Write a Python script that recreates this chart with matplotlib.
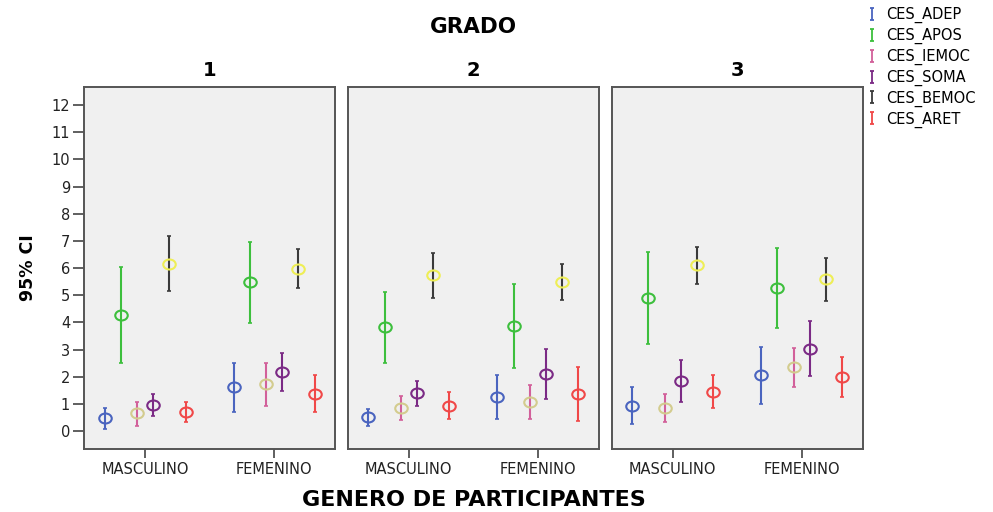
import numpy as np
import matplotlib
matplotlib.use("Agg")
import matplotlib.pyplot as plt
from matplotlib.path import Path
from matplotlib.transforms import Affine2D
from matplotlib.lines import Line2D

# series, genders, grades
series = ["CES_ADEP", "CES_APOS", "CES_IEMOC", "CES_SOMA", "CES_BEMOC", "CES_ARET"]
generos = ["MASCULINO", "FEMENINO"]
grados = ["1", "2", "3"]

# columns: G1 masc, G1 fem, G2 masc, G2 fem, G3 masc, G3 fem
media = [
    [0.48, 1.61, 0.50, 1.25, 0.94, 2.06],
    [4.26, 5.47, 3.84, 3.86, 4.89, 5.28],
    [0.65, 1.74, 0.86, 1.08, 0.86, 2.34],
    [0.96, 2.17, 1.40, 2.11, 1.86, 3.01],
    [6.15, 5.98, 5.74, 5.47, 6.10, 5.58],
    [0.70, 1.38, 0.94, 1.36, 1.45, 1.99],
]
lim_inf = [
    [0.09, 0.71, 0.18, 0.44, 0.27, 0.98],
    [2.49, 3.98, 2.51, 2.32, 3.19, 3.81],
    [0.20, 0.94, 0.42, 0.44, 0.34, 1.63],
    [0.55, 1.46, 0.93, 1.18, 1.08, 2.01],
    [5.16, 5.26, 4.90, 4.82, 5.42, 4.79],
    [0.33, 0.71, 0.44, 0.37, 0.86, 1.26],
]
lim_sup = [
    [0.86, 2.49, 0.82, 2.05, 1.61, 3.11],
    [6.02, 6.96, 5.12, 5.42, 6.59, 6.75],
    [1.08, 2.52, 1.29, 1.70, 1.38, 3.05],
    [1.36, 2.87, 1.85, 3.01, 2.62, 4.04],
    [7.17, 6.69, 6.57, 6.13, 6.78, 6.37],
    [1.07, 2.06, 1.45, 2.35, 2.05, 2.71],
]

bar_col = ["#4a64bf", "#3dbf3d", "#d2609a", "#7b2a85", "#3a3a3a", "#f04848"]
mk_col = ["#4a64bf", "#3dbf3d", "#d3cc8e", "#7b2a85", "#eeee55", "#f04848"]
offsets = np.array([-0.314, -0.188, -0.063, 0.063, 0.188, 0.314])

# wide open ellipse marker
ellipse = Path.unit_circle().transformed(Affine2D().scale(1.25, 1.0))
# "I" shaped marker for the legend
ibar = Path([(-0.3, -1), (0.3, -1), (0, -1), (0, 1), (-0.3, 1), (0.3, 1)],
            [Path.MOVETO, Path.LINETO, Path.MOVETO, Path.LINETO, Path.MOVETO, Path.LINETO])

fig = plt.figure(figsize=(9.93, 5.12), dpi=100)
lefts = [0.0846, 0.3502, 0.6160]
x = np.arange(len(generos))
for g, left in enumerate(lefts):
    ax = fig.add_axes([left, 0.123, 0.2528, 0.707])
    ax.set_facecolor("#f0f0f0")
    for s in range(len(series)):
        m = np.array(media[s][2 * g:2 * g + 2])
        lo = np.array(lim_inf[s][2 * g:2 * g + 2])
        hi = np.array(lim_sup[s][2 * g:2 * g + 2])
        ax.errorbar(x + offsets[s], m, yerr=[m - lo, hi - m], fmt="none",
                    ecolor=bar_col[s], elinewidth=1.5, capsize=1.6, capthick=1.2)
        ax.plot(x + offsets[s], m, linestyle="none", marker=ellipse, markersize=9,
                markerfacecolor="none", markeredgecolor=mk_col[s], markeredgewidth=1.5)
    ax.set_xlim(-0.473, 1.473)
    ax.set_ylim(-0.66, 12.66)
    ax.set_xticks(x)
    ax.set_xticklabels(generos, fontsize=10.5, color="#222222")
    ax.tick_params(axis="x", length=6.5, width=1.2, color="#444444", pad=3)
    if g == 0:
        ax.set_yticks(range(0, 13))
        ax.tick_params(axis="y", length=8, width=1.2, color="#444444", pad=2,
                       labelsize=10.5, labelcolor="#222222")
    else:
        ax.set_yticks([])
    for sp in ax.spines.values():
        sp.set_color("#555555")
        sp.set_linewidth(1.4)
    ax.set_title(grados[g], fontsize=14, fontweight="bold", pad=8)

fig.text(0.4768, 1 - 27 / 512, "GRADO", ha="center", va="center",
         fontsize=15.5, fontweight="bold")
fig.text(0.4768, 1 - 500 / 512, "GENERO DE PARTICIPANTES", ha="center", va="center",
         fontsize=16, fontweight="bold")
fig.text(28 / 993, 1 - 268 / 512, "95% CI", ha="center", va="center", rotation=90,
         fontsize=12.5, fontweight="bold")

handles = [Line2D([], [], linestyle="none", marker=ibar, markersize=8,
                  markerfacecolor="none", markeredgecolor=c, markeredgewidth=1.3)
           for c in bar_col]
fig.legend(handles, series, loc="upper left", bbox_to_anchor=(866 / 993, 1 - 7 / 512),
           frameon=False, fontsize=10.5, handlelength=0.8, handletextpad=0.6,
           labelspacing=0.32, borderaxespad=0, borderpad=0)

fig.savefig("out.png", dpi=100)
